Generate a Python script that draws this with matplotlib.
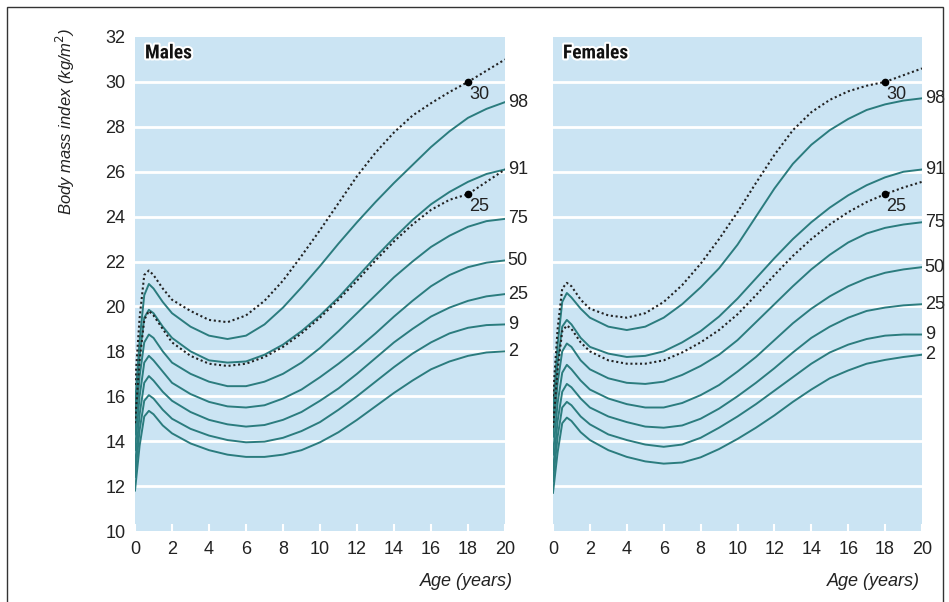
import matplotlib.pyplot as plt
import matplotlib.patheffects as pe
from matplotlib.patches import Rectangle

plt.rcParams['font.family'] = ['Liberation Sans', 'DejaVu Sans']
narrow = ['Liberation Sans Narrow', 'Roboto Condensed', 'Liberation Sans', 'DejaVu Sans']

# Age grid (years) used for every curve
ages = [0, 0.25, 0.5, 0.75, 1, 1.5, 2, 3, 4, 5, 6, 7, 8, 9, 10,
        11, 12, 13, 14, 15, 16, 17, 18, 19, 20]

centiles = [98, 91, 75, 50, 25, 9, 2]

# Males: BMI centile curves
male_98 = [15.6, 18.5, 20.5, 21.0, 20.8, 20.2, 19.7, 19.1, 18.7, 18.55, 18.7, 19.2, 19.95,
           20.85, 21.8, 22.8, 23.75, 24.65, 25.5, 26.3, 27.1, 27.8, 28.4, 28.8, 29.1]
male_91 = [15.0, 17.8, 19.5, 19.85, 19.7, 19.1, 18.6, 18.0, 17.6, 17.5, 17.55, 17.85, 18.3,
           18.9, 19.6, 20.4, 21.3, 22.2, 23.05, 23.85, 24.55, 25.1, 25.55, 25.9, 26.1]
male_75 = [14.3, 16.9, 18.4, 18.75, 18.6, 18.0, 17.5, 17.0, 16.65, 16.45, 16.45, 16.65, 17.0,
           17.5, 18.15, 18.9, 19.7, 20.5, 21.3, 22.0, 22.65, 23.15, 23.55, 23.8, 23.9]
male_50 = [13.6, 16.0, 17.5, 17.8, 17.6, 17.1, 16.6, 16.1, 15.75, 15.55, 15.5, 15.6, 15.9,
           16.3, 16.85, 17.45, 18.1, 18.8, 19.55, 20.25, 20.9, 21.4, 21.75, 21.95, 22.05]
male_25 = [12.9, 15.2, 16.6, 16.9, 16.7, 16.2, 15.8, 15.3, 14.95, 14.75, 14.65, 14.72, 14.95,
           15.3, 15.8, 16.35, 17.0, 17.7, 18.4, 19.0, 19.55, 19.95, 20.25, 20.45, 20.55]
male_9 = [12.4, 14.5, 15.8, 16.05, 15.9, 15.4, 15.0, 14.55, 14.25, 14.05, 13.95, 13.98, 14.15,
          14.45, 14.85, 15.4, 16.0, 16.65, 17.3, 17.9, 18.4, 18.8, 19.05, 19.17, 19.2]
male_2 = [11.8, 13.8, 15.1, 15.35, 15.2, 14.7, 14.35, 13.9, 13.6, 13.4, 13.3, 13.3, 13.4,
          13.6, 13.95, 14.4, 14.95, 15.55, 16.15, 16.7, 17.2, 17.55, 17.8, 17.95, 18.0]
# Males: adult cut-off curves (dotted)
male_bmi30 = [16.5, 19.5, 21.4, 21.6, 21.4, 20.8, 20.3, 19.8, 19.4, 19.3, 19.6, 20.25, 21.15,
              22.25, 23.4, 24.6, 25.8, 26.85, 27.75, 28.5, 29.05, 29.55, 30.0, 30.5, 31.0]
male_bmi25 = [14.8, 17.6, 19.4, 19.8, 19.6, 19.0, 18.4, 17.8, 17.45, 17.35, 17.45, 17.75, 18.2,
              18.8, 19.5, 20.3, 21.15, 22.05, 22.9, 23.65, 24.3, 24.75, 25.0, 25.55, 26.1]

# Females
female_98 = [15.4, 18.3, 20.2, 20.6, 20.4, 19.9, 19.5, 19.1, 18.95, 19.1, 19.5, 20.1, 20.85,
             21.7, 22.75, 24.0, 25.25, 26.35, 27.2, 27.85, 28.35, 28.75, 29.0, 29.17, 29.27]
female_91 = [14.9, 17.5, 19.1, 19.4, 19.2, 18.6, 18.2, 17.9, 17.75, 17.8, 18.0, 18.4, 18.9,
             19.55, 20.35, 21.25, 22.15, 23.0, 23.75, 24.4, 24.95, 25.4, 25.75, 26.0, 26.1]
female_75 = [14.2, 16.6, 18.0, 18.35, 18.2, 17.6, 17.2, 16.8, 16.6, 16.55, 16.65, 16.95, 17.35,
             17.85, 18.5, 19.3, 20.1, 20.9, 21.65, 22.3, 22.85, 23.25, 23.5, 23.65, 23.75]
female_50 = [13.4, 15.7, 17.05, 17.4, 17.2, 16.7, 16.3, 15.9, 15.65, 15.5, 15.5, 15.7, 16.05,
             16.5, 17.1, 17.75, 18.5, 19.25, 19.9, 20.45, 20.9, 21.25, 21.5, 21.65, 21.75]
female_25 = [12.7, 14.9, 16.2, 16.55, 16.4, 15.9, 15.5, 15.1, 14.85, 14.65, 14.6, 14.7, 15.0,
             15.45, 16.0, 16.6, 17.25, 17.95, 18.6, 19.1, 19.5, 19.8, 19.95, 20.05, 20.1]
female_9 = [12.2, 14.2, 15.5, 15.75, 15.6, 15.1, 14.75, 14.3, 14.05, 13.85, 13.75, 13.85, 14.15,
            14.6, 15.1, 15.65, 16.25, 16.85, 17.45, 17.95, 18.3, 18.55, 18.7, 18.75, 18.75]
female_2 = [11.7, 13.5, 14.8, 15.05, 14.9, 14.4, 14.05, 13.6, 13.3, 13.1, 13.0, 13.05, 13.28,
            13.65, 14.1, 14.6, 15.15, 15.75, 16.3, 16.8, 17.15, 17.45, 17.62, 17.75, 17.85]
female_bmi30 = [16.0, 19.0, 20.8, 21.05, 20.9, 20.3, 19.9, 19.6, 19.5, 19.7, 20.2, 20.95, 21.9,
                23.0, 24.2, 25.5, 26.75, 27.85, 28.65, 29.2, 29.58, 29.83, 30.0, 30.3, 30.6]
female_bmi25 = [14.6, 17.2, 18.9, 19.15, 19.0, 18.4, 18.0, 17.6, 17.45, 17.45, 17.6, 17.95, 18.4,
                18.95, 19.65, 20.5, 21.4, 22.25, 23.0, 23.65, 24.2, 24.65, 25.0, 25.3, 25.55]

adult_age = 18
cutoffs = [30, 25]

panels = [
    ("Males", [male_98, male_91, male_75, male_50, male_25, male_9, male_2],
     [male_bmi30, male_bmi25]),
    ("Females", [female_98, female_91, female_75, female_50, female_25, female_9, female_2],
     [female_bmi30, female_bmi25]),
]

bg = "#cbe4f3"
teal = "#2b7c7e"
ink = "#222222"

fig = plt.figure(figsize=(9.49, 6.02), dpi=100)
W, H = 949, 602
axes = [fig.add_axes([135 / W, 1 - 531 / H, 370 / W, 494 / H]),
        fig.add_axes([553 / W, 1 - 531 / H, 369 / W, 494 / H])]

for i, (ax, (title, curves, dotted)) in enumerate(zip(axes, panels)):
    ax.set_facecolor(bg)
    ax.set_xlim(0, 20)
    ax.set_ylim(10, 32)
    for s in ax.spines.values():
        s.set_visible(False)
    for y in range(12, 32, 2):
        ax.axhline(y, color="white", lw=2, zorder=1)

    # centile curves
    for c, vals in zip(centiles, curves):
        ax.plot(ages, vals, color=teal, lw=1.4, zorder=3, solid_joinstyle="round")
        ax.annotate(str(c), xy=(20, vals[-1]), xytext=(2, 0), textcoords="offset points",
                    ha="left", va="center", fontsize=13, color=ink,
                    annotation_clip=False)

    # adult cut-off curves
    for cut, vals in zip(cutoffs, dotted):
        ax.plot(ages, vals, color=ink, lw=1.5, linestyle=(0, (1, 1.3)), zorder=4)
        ax.plot(adult_age, cut, "o", color="black", ms=4.5, zorder=5)
        ax.annotate(str(cut), xy=(adult_age, cut), xytext=(1, -3), textcoords="offset points",
                    ha="left", va="top", fontsize=13, color=ink)

    ax.text(0.027, 0.985, title, transform=ax.transAxes, ha="left", va="top",
            fontsize=14, fontweight="bold", color="#111111", family=narrow,
            path_effects=[pe.withStroke(linewidth=3, foreground="white")])

    ax.set_xticks(range(0, 21, 2))
    ax.tick_params(axis="x", direction="in", color="white", length=5, width=1.5,
                   labelsize=13, pad=7, labelcolor=ink)
    ax.set_yticks(range(10, 33, 2))
    if i == 0:
        ax.tick_params(axis="y", length=0, labelsize=13, pad=7, labelcolor=ink)
    else:
        ax.tick_params(axis="y", length=0, labelleft=False)

    right_px = 513 if i == 0 else 920
    fig.text(right_px / W, 1 - 581 / H, "Age (years)", ha="right", va="center",
             fontsize=13, style="italic", color=ink)

fig.text(65 / W, 1 - 28 / H, "Body mass index (kg/m$^2$)", rotation=90, ha="center",
         va="top", fontsize=12, style="italic", color=ink)

# thin frame round the figure
fig.patches.append(Rectangle((7 / W, -0.05), 936 / W, 1 - 7 / H + 0.05, transform=fig.transFigure,
                             fill=False, edgecolor="#333333", lw=1))

fig.savefig("out.png", dpi=100)
